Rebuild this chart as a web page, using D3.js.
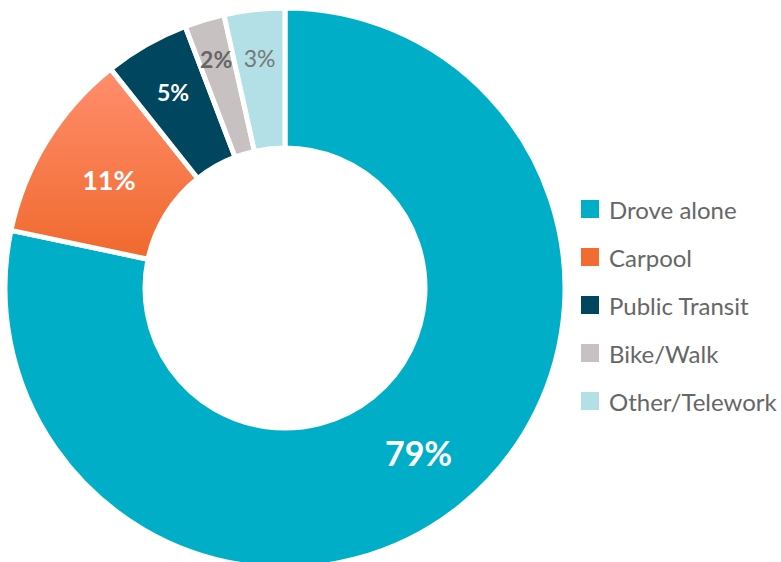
<!DOCTYPE html>
<html>
<head>
<meta charset="utf-8">
<script src="https://cdn.jsdelivr.net/npm/d3@7"></script>
<style>
  body { margin: 0; background: #fff; }
  svg { display: block; font-family: Lato, "Open Sans", sans-serif; }
</style>
</head>
<body>
<svg id="chart" width="781" height="562"></svg>
<script>
// data
const categories = ["Drove alone", "Carpool", "Public Transit", "Bike/Walk", "Other/Telework"];
const shares = [78.3, 11.0, 4.9, 2.3, 3.5];
const labels = ["79%", "11%", "5%", "2%", "3%"];
const colors = ["#00afc7", "#f26b30", "#00465f", "#c8c1c1", "#b3e0e6"];

const width = 781, height = 562;
const cx = 285, cy = 288;
const outerR = 280, innerR = 140;

const svg = d3.select("#chart");

// carpool gradient (light top -> deeper orange), coords relative to the pie centre
const defs = svg.append("defs");
const grad = defs.append("linearGradient")
  .attr("id", "carpoolGrad")
  .attr("gradientUnits", "userSpaceOnUse")
  .attr("x1", 0).attr("y1", 72 - cy).attr("x2", 0).attr("y2", 262 - cy);
grad.append("stop").attr("offset", "0%").attr("stop-color", "#ff8d6c");
grad.append("stop").attr("offset", "100%").attr("stop-color", "#f0692d");

const data = categories.map((c, i) => ({ name: c, value: shares[i], label: labels[i], color: colors[i] }));

const pie = d3.pie().sort(null).value(d => d.value);
const arc = d3.arc().innerRadius(innerR).outerRadius(outerR);
const arcs = pie(data);

const g = svg.append("g").attr("transform", `translate(${cx},${cy})`);

g.selectAll("path.slice")
  .data(arcs)
  .join("path")
  .attr("class", "slice")
  .attr("d", arc)
  .attr("fill", d => d.data.name === "Carpool" ? "url(#carpoolGrad)" : d.data.color)
  .attr("stroke", "#fff")
  .attr("stroke-width", 5)
  .attr("stroke-linejoin", "miter");

// label placement: radius and style per slice
const labelStyle = {
  "Drove alone":    { r: 212, size: 34, weight: 700, fill: "#fff" },
  "Carpool":        { r: 207, size: 27, weight: 700, fill: "#fff" },
  "Public Transit": { r: 226, size: 23, weight: 700, fill: "#fff" },
  "Bike/Walk":      { r: 239, size: 23, weight: 700, fill: "#666" },
  "Other/Telework": { r: 231, size: 23, weight: 400, fill: "#777" }
};

g.selectAll("text.lbl")
  .data(arcs)
  .join("text")
  .attr("class", "lbl")
  .each(function(d) {
    const s = labelStyle[d.data.name];
    const pos = d3.arc().innerRadius(s.r).outerRadius(s.r).centroid(d);
    d3.select(this)
      .attr("x", pos[0])
      .attr("y", pos[1])
      .attr("font-size", s.size)
      .attr("font-weight", s.weight)
      .attr("fill", s.fill);
  })
  .attr("text-anchor", "middle")
  .attr("dominant-baseline", "central")
  .text(d => d.data.label);

// legend
const legend = svg.append("g").attr("transform", "translate(581,200)");
const rowH = 48;
const item = legend.selectAll("g")
  .data(data)
  .join("g")
  .attr("transform", (d, i) => `translate(0,${i * rowH})`);

item.append("rect")
  .attr("width", 18).attr("height", 18)
  .attr("fill", d => d.color);

item.append("text")
  .attr("x", 28)
  .attr("y", 9)
  .attr("dominant-baseline", "central")
  .attr("font-size", 24)
  .attr("fill", "#666")
  .text(d => d.name);
</script>
</body>
</html>
